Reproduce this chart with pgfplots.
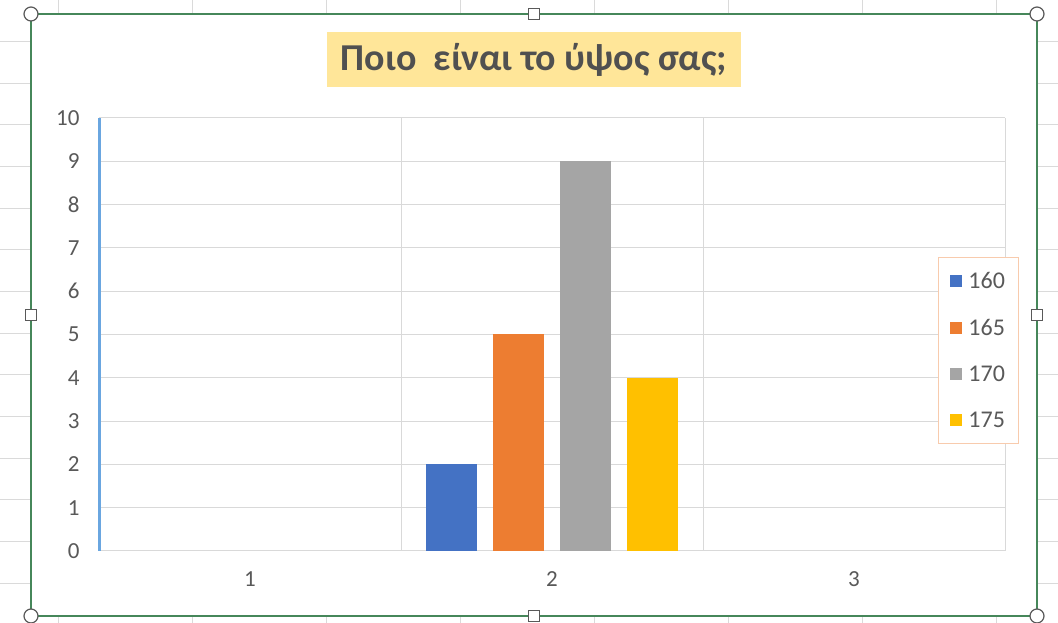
\documentclass[border=0pt]{standalone}
\usepackage{fontspec}
\setmainfont{Carlito}
\usepackage{pgfplots}
\pgfplotsset{compat=1.18}

\definecolor{cBlue}{HTML}{4472C4}
\definecolor{cOrange}{HTML}{ED7D31}
\definecolor{cGray}{HTML}{A5A5A5}
\definecolor{cYellow}{HTML}{FFC000}
\definecolor{tickgray}{HTML}{595959}
\definecolor{gridgray}{HTML}{D9D9D9}
\definecolor{sheetgray}{HTML}{DADADA}
\definecolor{axisblue}{HTML}{6AA6E0}
\definecolor{legendline}{HTML}{F8CBAD}
\definecolor{titlefill}{HTML}{FFE699}
\definecolor{framegreen}{HTML}{46875A}

\begin{document}
\begin{tikzpicture}[x=1pt,y=1pt]
\useasboundingbox (0,0) rectangle (1058,623);
\fill[white] (0,0) rectangle (1058,623);
% spreadsheet cells behind the chart
\foreach \k in {0,...,7} \draw[sheetgray, line width=1pt] ({58+134*\k},0) -- ({58+134*\k},623);
\foreach \k in {1,...,14} \draw[sheetgray, line width=1pt] (0,{623-41.65*\k}) -- (1058,{623-41.65*\k});
\fill[white] (31,7) rectangle (1037,609);

% title
\node[fill=titlefill, text=tickgray!90!black, font=\bfseries\fontsize{38}{44}\selectfont,
      minimum width=414pt, minimum height=55pt, inner sep=0pt] at (534,563.5)
      {Ποιο~ είναι το ύψος σας;};

\begin{axis}[
    at={(99pt,72pt)}, anchor=south west,
    width=906pt, height=433pt, scale only axis,
    xmin=0.5, xmax=3.5, ymin=0, ymax=10,
    xtick={1,2,3}, ytick={0,1,...,10},
    minor xtick={1.5,2.5,3.5},
    ymajorgrids, xminorgrids,
    grid style={draw=gridgray, line width=1pt},
    minor grid style={draw=gridgray, line width=1pt},
    axis line style={draw=none},
    major tick length=0pt, minor tick length=0pt,
    clip=false,
    ticklabel style={font=\fontsize{23}{27}\selectfont, text=tickgray},
    yticklabel style={xshift=-16pt},
    xticklabel style={yshift=-17pt},
    /pgf/number format/assume math mode=true,
    ybar, bar width=0.169,
    legend style={at={(0.926,0.679)}, anchor=north west,
        draw=legendline, line width=1pt, fill=white,
        font=\fontsize{24}{28}\selectfont, text=tickgray,
        row sep=25pt, inner xsep=12pt, inner ysep=13pt},
    legend cell align=left,
    legend image code/.code={\fill[#1] (0pt,-6pt) rectangle (12pt,6pt); \path (16pt,0pt);},
]
\addplot[fill=cBlue, draw=none, bar shift=-0.333] coordinates {(2,2)};
\addplot[fill=cOrange, draw=none, bar shift=-0.111] coordinates {(2,5)};
\addplot[fill=cGray, draw=none, bar shift=0.111] coordinates {(2,9)};
\addplot[fill=cYellow, draw=none, bar shift=0.333] coordinates {(2,4)};
\legend{160,165,170,175}
\draw[axisblue, line width=3pt] (axis cs:0.5,0) -- (axis cs:0.5,10);
\end{axis}

% selection frame and handles
\draw[framegreen, line width=1.5pt] (31,7) rectangle (1037,609);
\foreach \p in {(31,609),(1037,609),(31,7),(1037,7)}
  \draw[fill=white, draw=black!65, line width=1.2pt] \p circle (7);
\foreach \p in {(534,609),(534,7),(31,308),(1037,308)}
  \draw[fill=white, draw=black!65, line width=1.2pt] \p ++(-5.5,-5.5) rectangle ++(11,11);
\end{tikzpicture}
\end{document}
